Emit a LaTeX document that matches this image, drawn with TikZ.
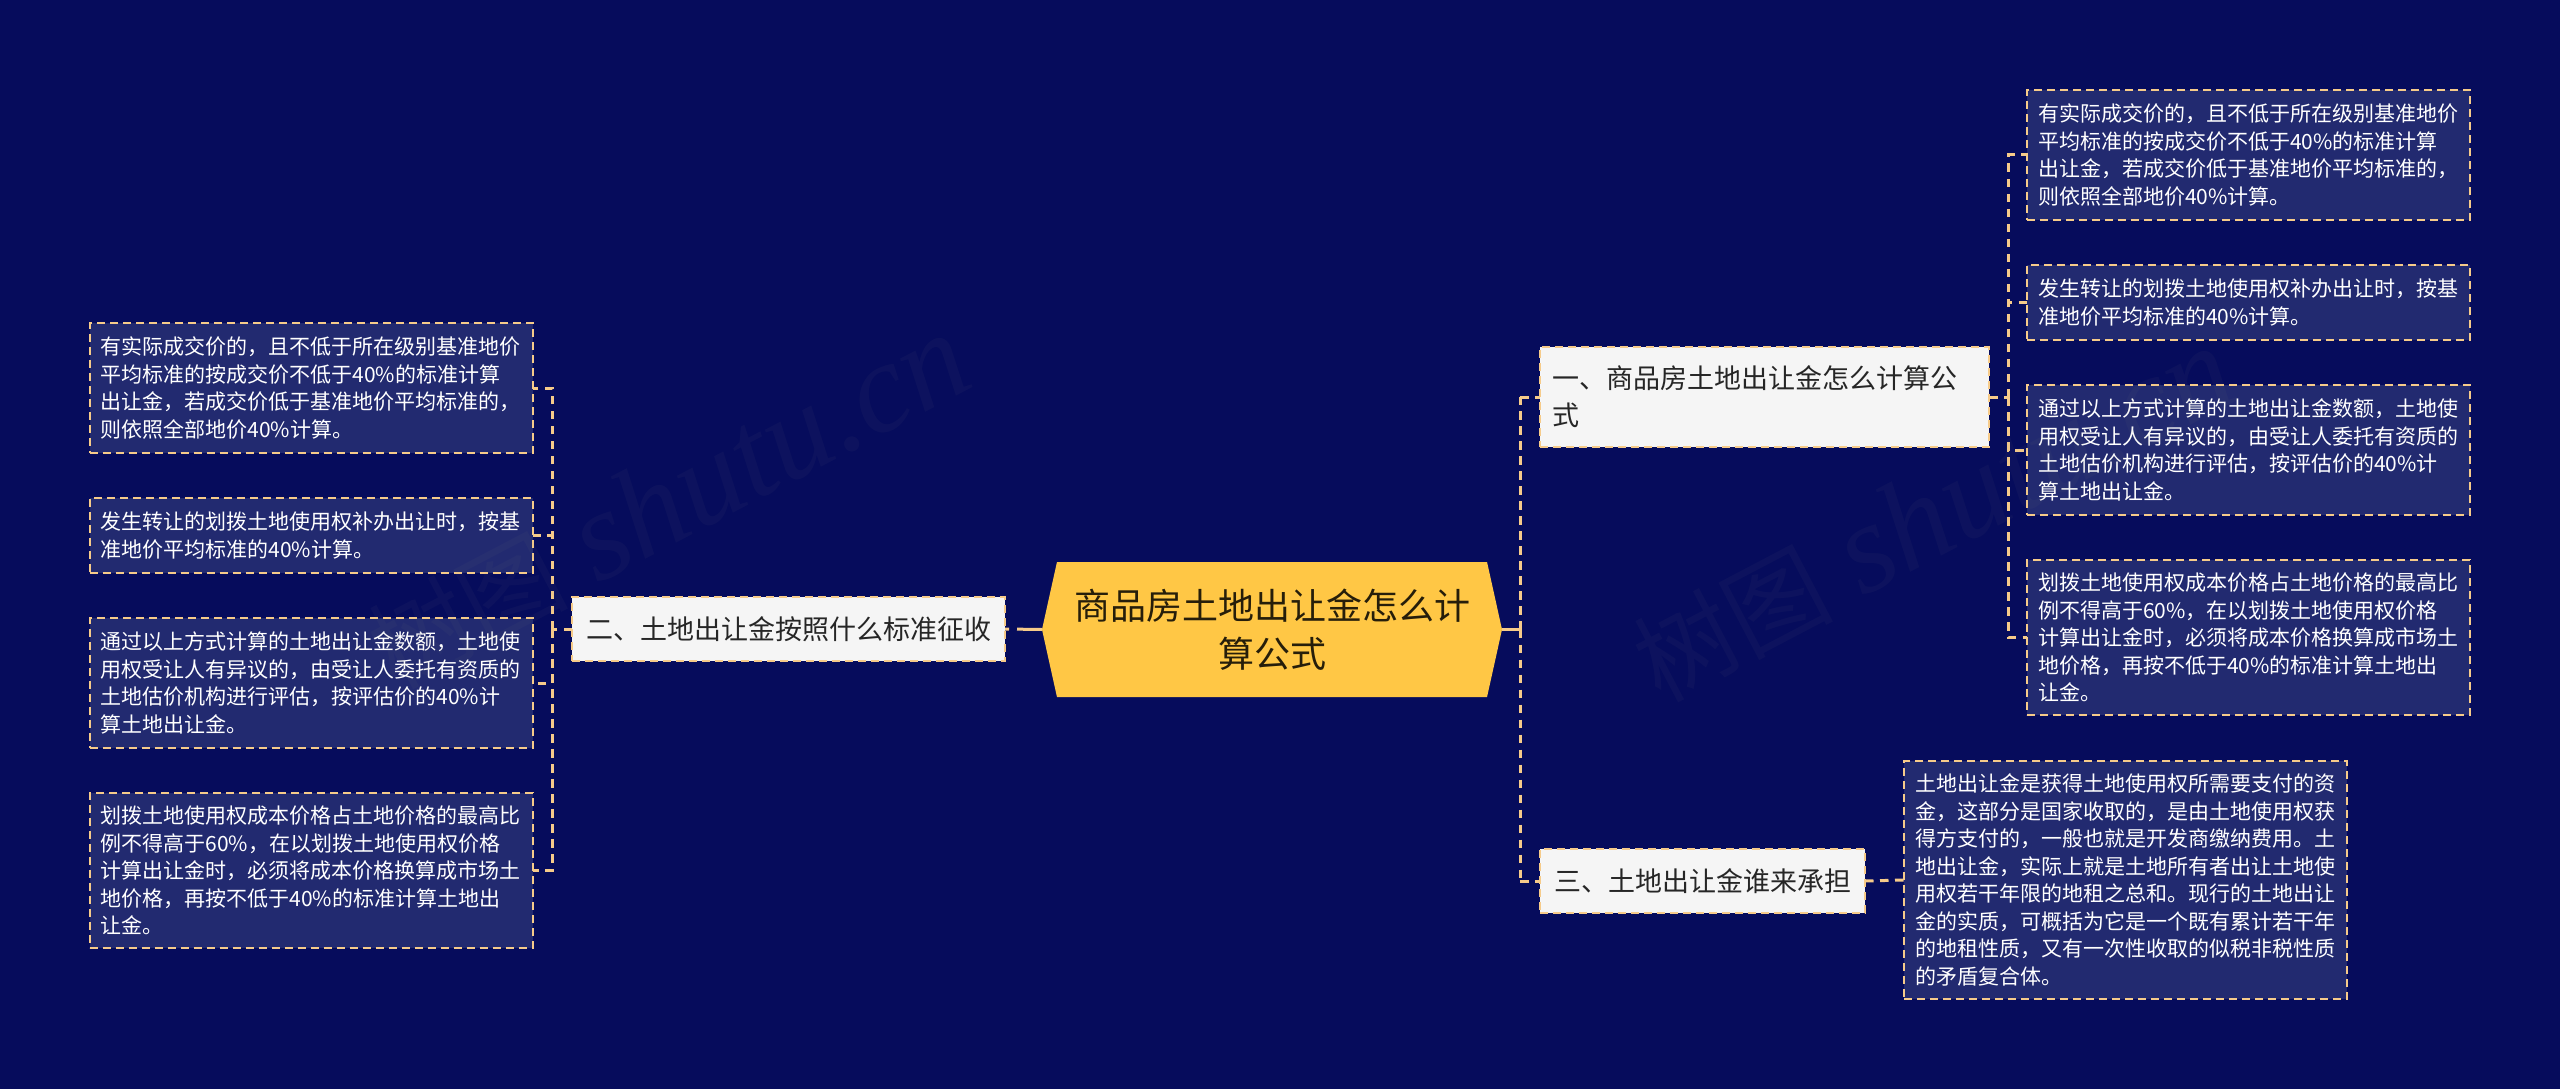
\documentclass[tikz,border=0pt]{standalone}
\usepackage{fontspec}
\setmainfont{Noto Sans CJK SC}
\newfontfamily\wmlatin{Liberation Serif}
\newfontfamily\wmcjk[AutoFakeSlant=0.2]{Noto Sans CJK SC}
\usetikzlibrary{positioning}
\usetikzlibrary{shapes.symbols}
\definecolor{bgblue}{HTML}{060C5C}
\definecolor{leafblue}{HTML}{222A70}
\definecolor{dashgold}{HTML}{F6CB8A}
\definecolor{rootgold}{HTML}{FFC745}
\tikzset{
link/.style={
  draw=dashgold,
  line width=3pt,
  dash pattern=on 8.5pt off 6.5pt
  },
root/.style={
  signal,
  signal to=west and east,
  signal pointer angle=155,
  inner sep=0pt,
  outer sep=0pt,
  minimum width=460pt,
  minimum height=135pt,
  align=center,
  fill=rootgold,
  text=black!85!rootgold,
  font=\fontsize{36}{48}\selectfont
  },
branch/.style={
  rectangle,
  inner sep=0pt,
  outer sep=0pt,
  align=left,
  draw=dashgold,
  fill=white!96!black,
  text=black!85,
  line width=2pt,
  dash pattern=on 8pt off 5pt,
  font=\fontsize{27}{37}\selectfont
  },
leaf/.style={
  rectangle,
  inner sep=0pt,
  outer sep=0pt,
  text width=421pt,
  minimum width=443pt,
  align=left,
  draw=dashgold,
  fill=leafblue,
  text=white,
  line width=2pt,
  dash pattern=on 8pt off 5pt,
  font=\fontsize{21}{27.5}\selectfont
  },
wm/.style={
  text=gray,
  text opacity=0.06,
  rotate=27.7,
  font=\fontsize{128}{128}\selectfont
  }
}
\newcommand{\wmtext}{{\fontsize{100}{100}\selectfont\wmcjk 树图} {\wmlatin\itshape shutu.cn}}
\begin{document}
\begin{tikzpicture}[x=1pt,y=-1pt]
    \fill[bgblue] (0,0) rectangle (2560,1089);
    \useasboundingbox (0,0) rectangle (2560,1089);
    \node[root] (root) at (1272,629.5) {商品房土地出让金怎么计\\算公式};
    % right side
    \node[branch,minimum width=449pt,minimum height=100pt,text width=425pt] (b1) at (1764.5,397) {一、商品房土地出让金怎么计算公\\式};
    \node[branch,minimum width=325pt,minimum height=64pt] (b3) at (1702.5,881) {三、土地出让金谁来承担};
    \node[leaf,minimum height=130pt] (r1) at (2248.5,155) {有实际成交价的，且不低于所在级别基准地价\\平均标准的按成交价不低于40\%的标准计算\\出让金，若成交价低于基准地价平均标准的，\\则依照全部地价40\%计算。};
    \node[leaf,minimum height=75pt] (r2) [below=45pt of r1] {发生转让的划拨土地使用权补办出让时，按基\\准地价平均标准的40\%计算。};
    \node[leaf,minimum height=130pt] (r3) [below=45pt of r2] {通过以上方式计算的土地出让金数额，土地使\\用权受让人有异议的，由受让人委托有资质的\\土地估价机构进行评估，按评估价的40\%计\\算土地出让金。};
    \node[leaf,minimum height=155pt] (r4) [below=45pt of r3] {划拨土地使用权成本价格占土地价格的最高比\\例不得高于60\%，在以划拨土地使用权价格\\计算出让金时，必须将成本价格换算成市场土\\地价格，再按不低于40\%的标准计算土地出\\让金。};
    \node[leaf,minimum height=238pt] (r5) at (2125.5,880) {土地出让金是获得土地使用权所需要支付的资\\金，这部分是国家收取的，是由土地使用权获\\得方支付的，一般也就是开发商缴纳费用。土\\地出让金，实际上就是土地所有者出让土地使\\用权若干年限的地租之总和。现行的土地出让\\金的实质，可概括为它是一个既有累计若干年\\的地租性质，又有一次性收取的似税非税性质\\的矛盾复合体。};
    % left side
    \node[branch,minimum width=433pt,minimum height=64pt] (b2) at (788.5,629) {二、土地出让金按照什么标准征收};
    \node[leaf,minimum height=130pt] (l1) at (311,388) {有实际成交价的，且不低于所在级别基准地价\\平均标准的按成交价不低于40\%的标准计算\\出让金，若成交价低于基准地价平均标准的，\\则依照全部地价40\%计算。};
    \node[leaf,minimum height=75pt] (l2) [below=45pt of l1] {发生转让的划拨土地使用权补办出让时，按基\\准地价平均标准的40\%计算。};
    \node[leaf,minimum height=130pt] (l3) [below=45pt of l2] {通过以上方式计算的土地出让金数额，土地使\\用权受让人有异议的，由受让人委托有资质的\\土地估价机构进行评估，按评估价的40\%计\\算土地出让金。};
    \node[leaf,minimum height=155pt] (l4) [below=45pt of l3] {划拨土地使用权成本价格占土地价格的最高比\\例不得高于60\%，在以划拨土地使用权价格\\计算出让金时，必须将成本价格换算成市场土\\地价格，再按不低于40\%的标准计算土地出\\让金。};
    % junctions
    \coordinate (jroot) at (1520,629.5);
    \coordinate (jright) at (2008,397);
    \coordinate (jleft) at (552,629);
    \path[link]
    (jroot) edge (jroot |- b1.west)
    (jroot |- b1.west) edge (b1.west)
    (jroot) edge (jroot |- b3.west)
    (jroot |- b3.west) edge (b3.west)
    (b1.east) edge (jright)
    (b2.west) edge (jleft)
    (b3.east) edge (r5.west)
    ;
    \draw[link,solid] (root.east) -- (jroot);
    \draw[link,dash pattern=on 25pt off 8pt] (root.west) -- (b2.east);
    \foreach \n in {r1,r2,r3,r4} {
        \draw[link] (jright) |- (\n.west);
    }
    \foreach \n in {l1,l2,l3,l4} {
        \draw[link] (jleft) |- (\n.east);
    }
    % watermark lies over everything
    \node[wm] (wmleft) at (668,502) {\wmtext};
    \node[wm] (wmright) at (1933,515) {\wmtext};
\end{tikzpicture}
\end{document}
